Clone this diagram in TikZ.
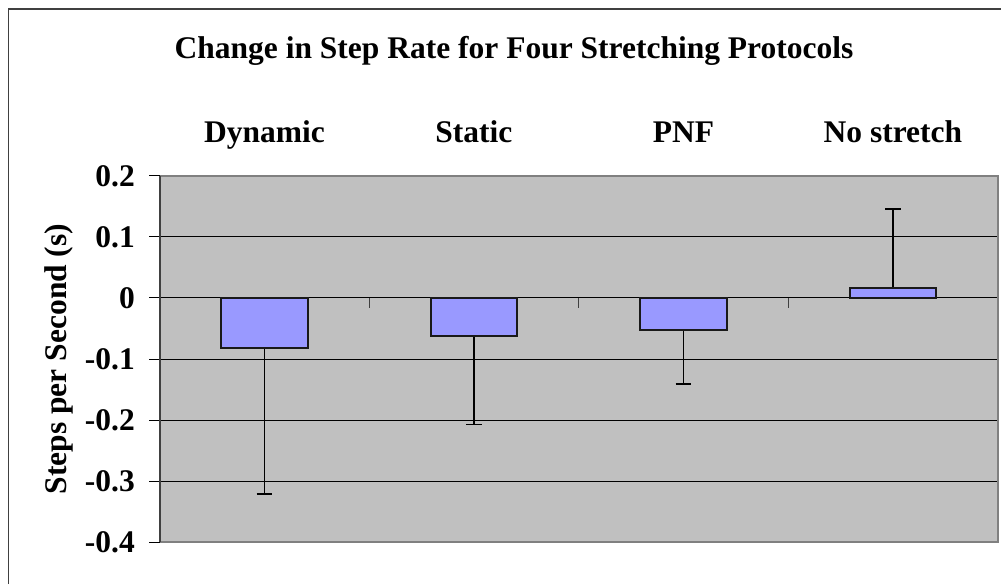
\documentclass[tikz,border=0pt]{standalone}
\usepackage{fontspec}
\setmainfont{Liberation Serif}
\usepackage{xcolor}
\usepackage{tikz}
\definecolor{plotbg}{RGB}{192,192,192}
\definecolor{barcol}{RGB}{153,153,255}
\definecolor{framecol}{RGB}{64,64,64}
\definecolor{areacol}{RGB}{128,128,128}

\begin{document}
\begin{tikzpicture}[x=1pt, y=1pt, font=\bfseries\fontsize{31.5}{36}\selectfont]
  \useasboundingbox (0,0) rectangle (1001,584);

  % chart frame (runs off the page on the right and at the bottom)
  \draw[framecol, line width=1.5pt] (8.3,0) -- (8.3,575.2) -- (1001,575.2);

  \node[anchor=base, inner sep=0] (title) at (514,525)
    {Change in Step Rate for Four Stretching Protocols};
  \node[anchor=base, rotate=90, inner sep=0] (ylabel) at (66,225)
    {Steps per Second (s)};

  \begin{scope}[shift={(159.7pt,286pt)}, x=209.5pt, y=610.5pt]
    % plot area
    \fill[plotbg] (0,-0.4) rectangle (4,0.2);
    \foreach \v in {-0.3,-0.2,-0.1,0.1}
      \draw[black, line width=1pt] (0,\v) -- (4,\v);

    % value axis
    \foreach \v in {0.2,0.1,0,-0.1,-0.2,-0.3,-0.4} {
      \draw[black, line width=1pt] (-0.05,\v) -- (0,\v);
      \node[anchor=east, inner sep=0, xshift=-24.7pt] (tick\v) at (0,\v) {\v};
    }

    % category axis
    \draw[black, line width=1pt] (0,0) -- (4,0);
    \foreach \i in {1,2,3,4}
      \draw[framecol, line width=1pt] (\i,0) -- (\i,-0.0164);

    % bars with error bars
    \foreach \i/\lbl/\val/\err in {0/Dynamic/-0.082/-0.321, 1/Static/-0.062/-0.207,
                                   2/PNF/-0.053/-0.141, 3/No stretch/0.016/0.146} {
      \draw[black, line width=1.6pt] (\i+0.5,\val) -- (\i+0.5,\err);
      \draw[black, line width=1.6pt] (\i+0.4625,\err) -- (\i+0.5375,\err);
      \draw[fill=barcol, draw=black!90, line width=1.8pt]
        (\i+0.294,0) rectangle (\i+0.706,\val);
      \node[anchor=base, inner sep=0] (cat\i) at (\i+0.5,0.2544) {\lbl};
    }

    % border of the plot area
    \draw[areacol, line width=1.6pt] (0,0.2) -- (4,0.2) -- (4,-0.4) -- (0,-0.4);
    \draw[framecol, line width=1.6pt] (0,-0.4) -- (0,0.2);
  \end{scope}
\end{tikzpicture}
\end{document}
